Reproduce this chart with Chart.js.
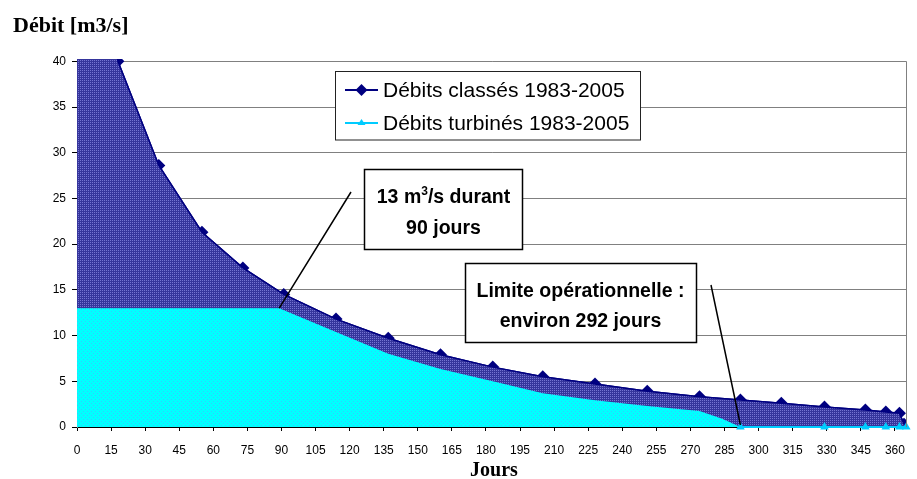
<!DOCTYPE html>
<html><head><meta charset="utf-8">
<script src="https://cdn.jsdelivr.net/npm/chart.js@4/dist/chart.umd.min.js"></script>
<style>html,body{margin:0;padding:0;background:#fff;}canvas{display:block;}</style>
</head><body>
<canvas id="c" width="917" height="479"></canvas>
<script>
// ---- data ----
const classesDays   = [0, 18, 36, 55, 73, 91, 114, 137, 160, 183, 205, 228, 251, 274, 292, 310, 329, 347, 356, 362, 364];
const classesValues = [100, 40.0, 28.6, 21.3, 17.4, 14.5, 11.8, 9.7, 7.9, 6.55, 5.5, 4.7, 3.9, 3.3, 2.95, 2.6, 2.2, 1.85, 1.65, 1.5, 0.3];
const turbinesDays   = [0, 89, 114, 137, 160, 183, 205, 228, 251, 274, 284, 292, 329, 347, 356, 362, 365];
const turbinesValues = [13, 13, 10.4, 8.0, 6.35, 5.0, 3.7, 2.93, 2.3, 1.75, 0.9, 0, 0, 0, 0, 0, 0];
const xTickRange = [0, 365, 15];   // min, max, step
const yTickRange = [0, 40, 5];
const seriesLabels = ['Débits classés 1983-2005', 'Débits turbinés 1983-2005'];
const yTitle = 'Débit [m3/s]';
const xTitle = 'Jours';
const note1Line1 = ['13 m', '3', '/s durant'];
const note1Line2 = '90 jours';
const note2Lines = ['Limite opérationnelle :', 'environ 292 jours'];
const note1Target = [89, 13];
const note2Target = [292, 0];

const canvas = document.getElementById('c');
const ctx0 = canvas.getContext('2d');
function makePattern(base, dot, dots) {
  const t = document.createElement('canvas');
  t.width = 4; t.height = 4;
  const g = t.getContext('2d');
  g.fillStyle = base; g.fillRect(0, 0, 4, 4);
  g.fillStyle = dot;
  dots.forEach(p => g.fillRect(p[0], p[1], 1, 1));
  return ctx0.createPattern(t, 'repeat');
}
const darkFill = makePattern('#35359c', '#7474d2', [[0,0],[2,0],[0,2],[2,2]]);
const cyanFill = makePattern('#00ffff', '#33ccff', [[1,1],[3,3]]);

const classesPts = classesDays.map((d, i) => ({x: d, y: classesValues[i]}));
const turbinesPts = turbinesDays.map((d, i) => ({x: d, y: turbinesValues[i]}));

const NAVY = '#000080', CYAN = '#00ccff';
const SANS = '"Liberation Sans", Arial, sans-serif';
const SERIF = '"Liberation Serif", "Times New Roman", serif';

const deco = {
  id: 'deco',
  afterDraw(chart) {
    const ctx = chart.ctx;
    const xs = chart.scales.x, ys = chart.scales.y;
    const ca = chart.chartArea;
    ctx.save();
    // right border of plot
    ctx.strokeStyle = '#808080'; ctx.lineWidth = 1;
    ctx.beginPath();
    ctx.moveTo(Math.round(ca.right) + 0.5, ys.getPixelForValue(yTickRange[1]));
    ctx.lineTo(Math.round(ca.right) + 0.5, ca.bottom);
    ctx.stroke();

    // titles
    ctx.fillStyle = '#000';
    ctx.textBaseline = 'alphabetic';
    ctx.textAlign = 'left';
    ctx.font = 'bold 22px ' + SERIF;
    ctx.fillText(yTitle, 13, 32);
    ctx.textAlign = 'center';
    ctx.font = 'bold 20px ' + SERIF;
    ctx.fillText(xTitle, 494, 476);

    // legend
    ctx.fillStyle = '#fff';
    ctx.fillRect(335.5, 71.5, 305, 68.5);
    ctx.strokeStyle = '#222'; ctx.lineWidth = 1;
    ctx.strokeRect(335.5, 71.5, 305, 68.5);
    // row 1
    ctx.strokeStyle = NAVY; ctx.lineWidth = 2;
    ctx.beginPath(); ctx.moveTo(345, 90); ctx.lineTo(378, 90); ctx.stroke();
    ctx.fillStyle = NAVY;
    ctx.beginPath(); ctx.moveTo(361.5, 84); ctx.lineTo(367.5, 90); ctx.lineTo(361.5, 96); ctx.lineTo(355.5, 90); ctx.closePath(); ctx.fill();
    // row 2
    ctx.strokeStyle = CYAN;
    ctx.beginPath(); ctx.moveTo(345, 123); ctx.lineTo(378, 123); ctx.stroke();
    ctx.fillStyle = CYAN;
    ctx.beginPath(); ctx.moveTo(361.5, 119); ctx.lineTo(365.5, 125); ctx.lineTo(357.5, 125); ctx.closePath(); ctx.fill();
    ctx.fillStyle = '#000';
    ctx.textAlign = 'left';
    ctx.font = '21px ' + SANS;
    ctx.fillText(seriesLabels[0], 383, 97);
    ctx.fillText(seriesLabels[1], 383, 130);

    // pointer lines
    ctx.strokeStyle = '#000'; ctx.lineWidth = 1.5;
    ctx.beginPath();
    ctx.moveTo(351, 192);
    ctx.lineTo(xs.getPixelForValue(note1Target[0]), ys.getPixelForValue(note1Target[1]));
    ctx.moveTo(711, 285);
    ctx.lineTo(xs.getPixelForValue(note2Target[0]), ys.getPixelForValue(note2Target[1]) - 2);
    ctx.stroke();

    // annotation boxes
    ctx.fillStyle = '#fff';
    ctx.fillRect(364.5, 169.5, 158, 80);
    ctx.fillRect(465.5, 263.5, 231, 79);
    ctx.strokeStyle = '#000'; ctx.lineWidth = 1.5;
    ctx.strokeRect(364.5, 169.5, 158, 80);
    ctx.strokeRect(465.5, 263.5, 231, 79);

    ctx.fillStyle = '#000';
    const big = 'bold 19.5px ' + SANS, sup = 'bold 12px ' + SANS;
    ctx.font = big;
    const w1 = ctx.measureText(note1Line1[0]).width;
    const w3 = ctx.measureText(note1Line1[2]).width;
    ctx.font = sup;
    const w2 = ctx.measureText(note1Line1[1]).width;
    let x0 = 443.5 - (w1 + w2 + w3) / 2;
    ctx.textAlign = 'left';
    ctx.font = big; ctx.fillText(note1Line1[0], x0, 203);
    ctx.font = sup; ctx.fillText(note1Line1[1], x0 + w1, 195);
    ctx.font = big; ctx.fillText(note1Line1[2], x0 + w1 + w2, 203);
    ctx.textAlign = 'center';
    ctx.fillText(note1Line2, 443.5, 234);
    ctx.fillText(note2Lines[0], 580.5, 297);
    ctx.fillText(note2Lines[1], 580.5, 327);
    ctx.restore();
  }
};

new Chart(canvas, {
  type: 'line',
  data: {
    datasets: [
      { label: seriesLabels[1] + ' (marqueurs)', data: turbinesPts, order: 1,
        borderColor: CYAN, borderWidth: 2, fill: false, clip: false,
        pointStyle: 'triangle', pointBackgroundColor: CYAN, pointBorderColor: CYAN, pointBorderWidth: 0,
        pointRadius: c => (c.raw && c.raw.y === 0) ? 5 : 0,
        segment: { borderColor: c => (c.p0.parsed.y === 0 && c.p1.parsed.y === 0) ? CYAN : 'rgba(0,0,0,0)' } },
      { label: seriesLabels[1], data: turbinesPts, order: 2,
        borderWidth: 0, borderColor: 'rgba(0,0,0,0)', pointRadius: 0, fill: 'origin', backgroundColor: cyanFill },
      { label: seriesLabels[0], data: classesPts, order: 3,
        borderColor: NAVY, borderWidth: 1.5, pointRadius: 0, fill: 'origin', backgroundColor: darkFill },
      { label: seriesLabels[0] + ' (marqueurs)', data: classesPts, order: 4,
        borderColor: NAVY, borderWidth: 1.5, fill: false,
        pointStyle: 'rectRot', pointRadius: 6.5, pointBackgroundColor: NAVY, pointBorderColor: NAVY, pointBorderWidth: 0 }
    ]
  },
  options: {
    responsive: false, animation: false, events: [],
    elements: { line: { tension: 0 } },
    layout: { padding: { top: 59, right: 3, left: 0, bottom: 0 } },
    plugins: { legend: { display: false }, tooltip: { enabled: false }, title: { display: false } },
    scales: {
      x: { type: 'linear', min: xTickRange[0], max: xTickRange[1],
        ticks: { stepSize: xTickRange[2], includeBounds: false, autoSkip: false, maxRotation: 0, color: '#000',
                 font: { family: SANS, size: 12 }, padding: 12 },
        grid: { drawOnChartArea: false, drawTicks: true, tickLength: 4, tickColor: '#000' },
        border: { color: '#000', width: 1 },
        afterFit: s => { s.height = 52; } },
      y: { type: 'linear', min: yTickRange[0], max: yTickRange[1] + 0.25,
        ticks: { stepSize: yTickRange[2], includeBounds: false, color: '#000',
                 font: { family: SANS, size: 12 }, padding: 6 },
        grid: { color: '#808080', lineWidth: 1, drawTicks: true, tickLength: 5, tickColor: '#000' },
        border: { color: '#808080', width: 1 },
        afterFit: s => { s.width = 77; } }
    }
  },
  plugins: [deco]
});
</script>
</body></html>
